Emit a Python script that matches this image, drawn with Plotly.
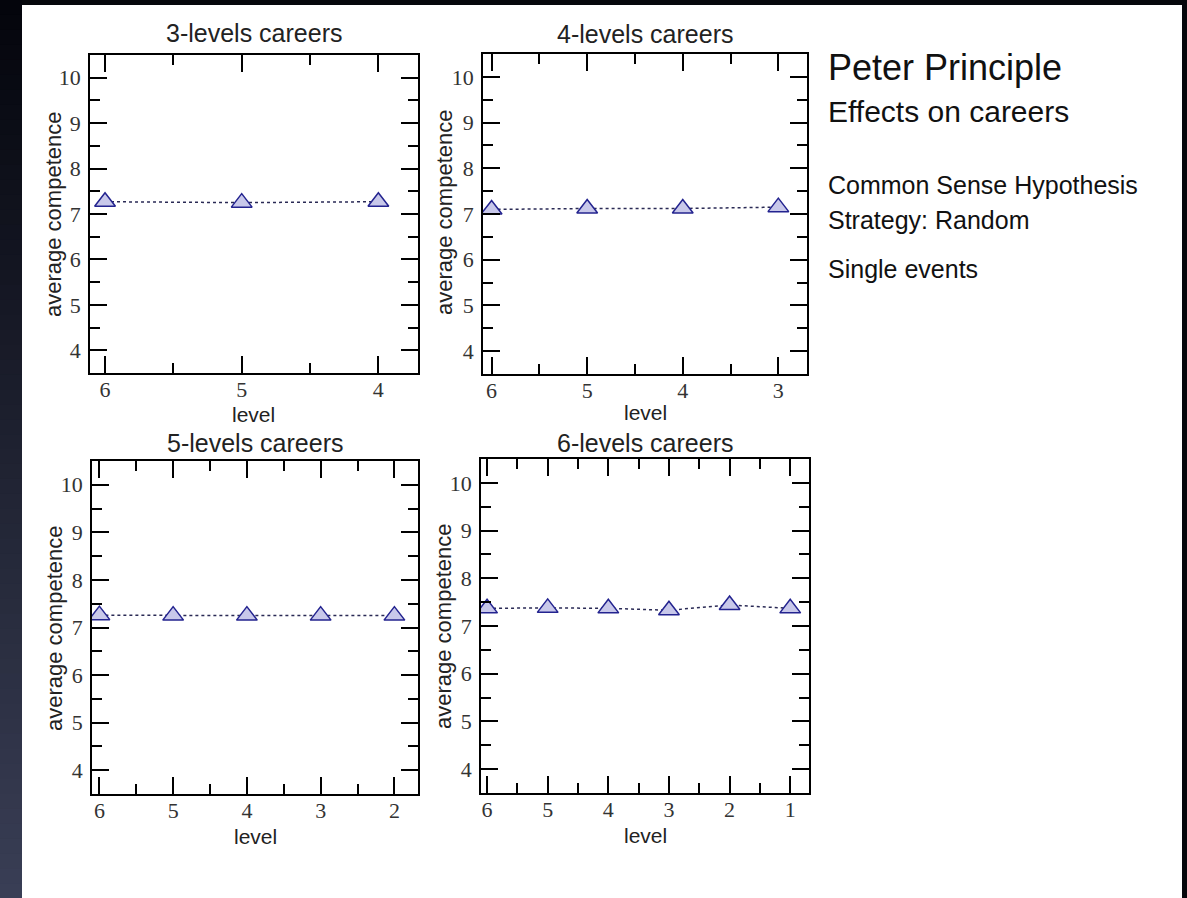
import plotly.graph_objects as go

# ---------------- data ----------------
panel_titles = ["3-levels careers", "4-levels careers", "5-levels careers", "6-levels careers"]
levels_3 = [6, 5, 4]
competence_3 = [7.27, 7.25, 7.27]
levels_4 = [6, 5, 4, 3]
competence_4 = [7.10, 7.12, 7.12, 7.15]
levels_5 = [6, 5, 4, 3, 2]
competence_5 = [7.26, 7.25, 7.25, 7.25, 7.25]
levels_6 = [6, 5, 4, 3, 2, 1]
competence_6 = [7.37, 7.38, 7.37, 7.33, 7.44, 7.37]
y_ticks = [4, 5, 6, 7, 8, 9, 10]
x_title = "level"
y_title = "average competence"
side_text = ["Peter Principle", "Effects on careers", "Common Sense Hypothesis",
             "Strategy: Random", "Single events"]

W, H = 1187, 898
def px(x):
    return x / W
def py(y):
    return 1 - y / H

# panel geometry in pixels: box (left, right, top, bottom), x-range,
# title centre y, x-title centre y, y-title centre (x, y)
panels = [
    (levels_3, competence_3, (90, 418, 55, 373), [6.11, 3.71], 33, 414, (54, 215)),
    (levels_4, competence_4, (483, 807, 54, 374), [6.09, 2.70], 34, 412, (444, 213)),
    (levels_5, competence_5, (92, 418, 461, 794), [6.10, 1.68], 443, 836, (54, 629)),
    (levels_6, competence_6, (481, 809, 459, 793), [6.10, 0.69], 443, 835, (443, 627)),
]

SANS = "Liberation Sans, Arial, sans-serif"
SERIF = "Liberation Serif, Times New Roman, serif"

fig = go.Figure()

axis_common = dict(
    showline=True, linecolor="black", linewidth=1.5, mirror="ticks",
    ticks="inside", ticklen=17, tickwidth=1.5, tickcolor="black",
    showgrid=False, zeroline=False,
    tickfont=dict(family=SERIF, size=22, color="#333333"),
)
minor_common = dict(ticks="inside", ticklen=10, tickwidth=1.5, tickcolor="black",
                    dtick=0.5, tick0=0.5, showgrid=False)

layout_axes = {}
annotations = []
for i, (lv, comp, (l, r, t, b), xr, ty, xty, (ytx, yty)) in enumerate(panels):
    n = "" if i == 0 else str(i + 1)
    fig.add_trace(go.Scatter(
        x=lv, y=comp, mode="lines+markers",
        xaxis="x" + n, yaxis="y" + n, showlegend=False,
        line=dict(color="#2a2a55", width=1.5, dash="dot"),
        marker=dict(symbol="triangle-up", size=18, color="#c8c8ea",
                    line=dict(color="#23238f", width=1.5)),
    ))
    layout_axes["xaxis" + n] = dict(
        axis_common, domain=[px(l), px(r)], range=xr, anchor="y" + n,
        tickvals=lv, ticklabelstandoff=-4, minor=minor_common,
    )
    layout_axes["yaxis" + n] = dict(
        axis_common, domain=[py(b), py(t)], range=[3.5, 10.5], anchor="x" + n,
        tickvals=y_ticks, ticklabelstandoff=3, minor=minor_common,
    )
    annotations.append(dict(
        text=panel_titles[i], xref="paper", yref="paper",
        x=px((l + r) / 2), y=py(ty), xanchor="center", yanchor="middle",
        showarrow=False, font=dict(family=SANS, size=25, color="#222222"),
    ))
    annotations.append(dict(
        text=x_title, xref="paper", yref="paper",
        x=px((l + r) / 2), y=py(xty), xanchor="center", yanchor="middle",
        showarrow=False, font=dict(family=SANS, size=21, color="#222222"),
    ))
    annotations.append(dict(
        text=y_title, xref="paper", yref="paper", textangle=-90,
        x=px(ytx), y=py(yty), xanchor="center", yanchor="middle",
        showarrow=False, font=dict(family=SANS, size=22, color="#222222"),
    ))

# right-hand text block
side_pos = [(68, 36), (111, 30), (185, 25), (220, 25), (269, 25)]
for txt, (yc, fs) in zip(side_text, side_pos):
    annotations.append(dict(
        text=txt, xref="paper", yref="paper", x=px(826), y=py(yc),
        xanchor="left", yanchor="middle", showarrow=False,
        font=dict(family=SANS, size=fs, color="#111111"),
    ))

# slide background: dark frame with gradient on the left, white page
shapes = [dict(type="rect", xref="paper", yref="paper", x0=px(22), x1=px(1182),
               y0=0, y1=py(5), fillcolor="white", line=dict(width=0), layer="below")]
nb = 60
c_top = (4, 5, 12)
c_bot = (58, 63, 86)
for k in range(nb):
    f = (k + 0.5) / nb
    col = tuple(int(c_top[j] + (c_bot[j] - c_top[j]) * f) for j in range(3))
    shapes.append(dict(type="rect", xref="paper", yref="paper", x0=0, x1=px(22),
                       y0=1 - (k + 1.05) / nb, y1=1 - k / nb,
                       fillcolor="rgb(%d,%d,%d)" % col, line=dict(width=0), layer="below"))

fig.update_layout(
    width=W, height=H, margin=dict(l=0, r=0, t=0, b=0),
    paper_bgcolor="#06070c", plot_bgcolor="white",
    annotations=annotations, shapes=shapes, showlegend=False,
    **layout_axes,
)

fig.write_html("out.html")
